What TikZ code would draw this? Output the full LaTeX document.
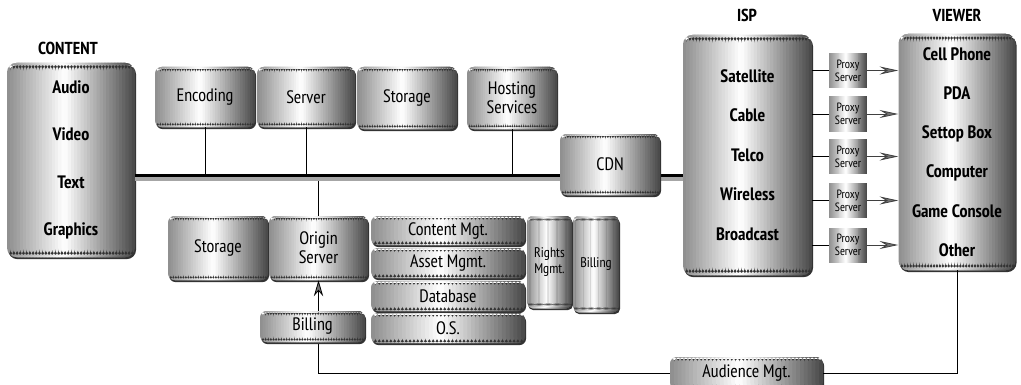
\documentclass[tikz,border=0pt]{standalone}
\usepackage{fontspec}
\setmainfont{PT Sans Narrow}
\usetikzlibrary{shadows,arrows.meta,calc}

\tikzset{
  sheen/.style={path picture={
    \foreach \i in {0,...,39}{
      \pgfmathsetmacro\tint{(\i+0.5)/40<0.45 ? 45*(1-((\i+0.5)/40)/0.45) : 72*(((\i+0.5)/40)-0.45)/0.55}
      \fill[black!\tint]
        ($(path picture bounding box.south west)!{\i/40}!(path picture bounding box.south east)$)
        rectangle
        ($(path picture bounding box.north west)!{(\i+1.3)/40}!(path picture bounding box.north east)$);
    }}}
}

\begin{document}
\begin{tikzpicture}
            [x=0.75pt, y=-0.75pt,
            block/.style={rounded corners=5pt, sheen,
                          preaction={path picture={}, fill=black!80, transform canvas={xshift=0.8pt, yshift=-1.6pt}},
                          align=center, inner sep=1pt, font=\fontsize{13.5}{14.5}\selectfont},
            big/.style={block, rounded corners=7pt, font=\bfseries\fontsize{13.5}{#1}\selectfont},
            small/.style={block, rounded corners=4pt, font=\fontsize{10.5}{11.5}\selectfont},
            proxy/.style={sheen, align=center, inner sep=0pt, minimum width=28.5pt, minimum height=26.25pt,
                          font=\fontsize{9}{9.5}\selectfont},
            head/.style={font=\bfseries\fontsize{13}{14}\selectfont},
            wire/.style={black, line width=0.6pt},
            feed/.style={black!75, line width=0.6pt, -{Stealth[length=14pt, width=6pt, inset=5pt, fill=black!55]}},
            busline/.style={black, line width=2.3pt},
            busglow/.style={black!35, line width=2.6pt}]

            \useasboundingbox (0,0) rectangle (1021,385);

            % content side
            \node[head] (contenthead) at (68,48) {CONTENT};
            \node[big=35.5pt, minimum width=96pt, minimum height=145.5pt] (content) at (71,160) {Audio\\Video\\Text\\Graphics};

            % ISP and viewer
            \node[head] (isphead) at (747,15) {ISP};
            \node[big=29.6pt, minimum width=96.75pt, minimum height=180pt] (isp) at (747.5,155) {Satellite\\Cable\\Telco\\Wireless\\Broadcast};
            \node[head] (viewerhead) at (957,15) {VIEWER};
            \node[big=29.4pt, minimum width=87.75pt, minimum height=177pt] (viewer) at (957,152) {Cell Phone\\PDA\\Settop Box\\Computer\\Game Console\\Other};

            % upper services
            \node[block, minimum width=75pt, minimum height=45pt] (encoding) at (205,97) {Encoding};
            \node[block, minimum width=73.5pt, minimum height=45pt] (server) at (306,97) {Server};
            \node[block, minimum width=75pt, minimum height=46.5pt] (storage) at (407,98) {Storage};
            \node[block, minimum width=67.5pt, minimum height=46.5pt] (hosting) at (512,98) {Hosting\\Services};

            % lower services
            \node[block, minimum width=75pt, minimum height=48pt] (store) at (218,248) {Storage};
            \node[block, minimum width=74.25pt, minimum height=48pt] (origin) at (318.5,248) {Origin\\Server};
            \node[block, minimum width=115.5pt, minimum height=21.75pt] (contentmgt) at (448,230.5) {Content Mgt.};
            \node[block, minimum width=115.5pt, minimum height=22.5pt] (assetmgt) at (448,263) {Asset Mgmt.};
            \node[block, minimum width=115.5pt, minimum height=22.5pt] (database) at (448,296) {Database};
            \node[block, minimum width=115.5pt, minimum height=22.5pt] (os) at (448,328) {O.S.};
            \node[small, minimum width=33.75pt, minimum height=69pt] (rights) at (549.5,262) {Rights\\Mgmt.};
            \node[small, minimum width=34.5pt, minimum height=72pt] (billingr) at (596,264) {Billing};

            % backbone
            \coordinate (busL) at (content.east |- 0,175.5);
            \coordinate (busR) at (isp.west |- 0,175.5);
            \draw[wire] (encoding.south) -- (encoding.south |- busL);
            \draw[wire] (server.south) -- (server.south |- busL);
            \draw[wire] (hosting.south) -- (hosting.south |- busL);
            \draw[wire] (origin.north) -- (origin.north |- busL);
            \draw[busglow] ([yshift=-2.6pt]busL) -- ([yshift=-2.6pt]busR);
            \draw[busline] (busL) -- (busR);
            \node[block, minimum width=75pt, minimum height=45.75pt] (cdn) at (610,164.5) {CDN};

            % proxies
            \node[proxy] (proxya) at (848,70.5) {Proxy\\Server};
            \node[proxy] (proxyb) at (848,114) {Proxy\\Server};
            \node[proxy] (proxyc) at (848,156.5) {Proxy\\Server};
            \node[proxy] (proxyd) at (848,200.5) {Proxy\\Server};
            \node[proxy] (proxye) at (848,245) {Proxy\\Server};

            \draw[wire] (proxya.west -| isp.east) -- (proxya.west);
            \draw[wire] (proxyb.west -| isp.east) -- (proxyb.west);
            \draw[wire] (proxyc.west -| isp.east) -- (proxyc.west);
            \draw[wire] (proxyd.west -| isp.east) -- (proxyd.west);
            \draw[wire] (proxye.west -| isp.east) -- (proxye.west);
            \draw[feed] (proxya.east) -- (proxya.east -| viewer.west);
            \draw[feed] (proxyb.east) -- (proxyb.east -| viewer.west);
            \draw[feed] (proxyc.east) -- (proxyc.east -| viewer.west);
            \draw[feed] (proxyd.east) -- (proxyd.east -| viewer.west);
            \draw[feed] (proxye.east) -- (proxye.east -| viewer.west);

            % audience loop
            \node[block, minimum width=114.75pt, minimum height=24pt] (audience) at (746.5,373) {Audience Mgt.};
            \draw[wire] (viewer.south) |- (audience.east);
            \draw[wire, -{Stealth[length=12pt, width=7pt, inset=4pt, fill=black!55]}] (audience.west) -| (origin.south);
            \node[block, minimum width=78.75pt, minimum height=23.25pt] (billingl) at (312.5,326.5) {Billing};

        \end{tikzpicture}
\end{document}
